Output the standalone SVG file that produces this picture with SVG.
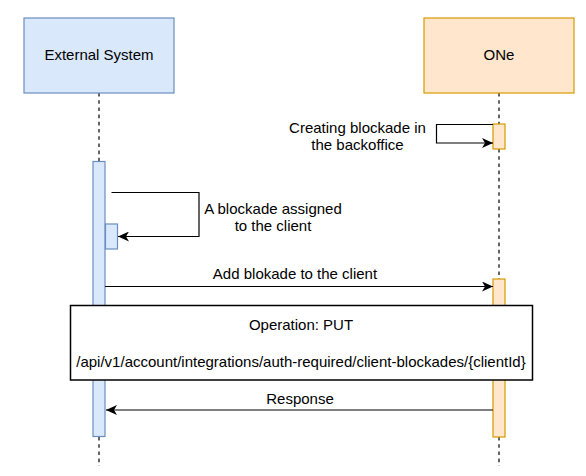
<svg xmlns="http://www.w3.org/2000/svg" width="586" height="476" viewBox="0 0 586 476">
<style>
text{font-family:"Liberation Sans",Arial,sans-serif;font-size:15px;fill:#000;text-anchor:middle}
.ext{fill:#dae8fc;stroke:#6c8ebf;stroke-width:1.2}
.one{fill:#ffe6cc;stroke:#d79b00;stroke-width:1.2}
.life{stroke:#000;stroke-width:1.2;stroke-dasharray:3.6 3.6;fill:none}
.msg{stroke:#000;stroke-width:1.2;fill:none}
</style>
<defs>
<marker id="arr" viewBox="0 0 11 10" refX="11" refY="5" markerWidth="11" markerHeight="10" markerUnits="userSpaceOnUse" orient="auto">
<path d="M0,0 L11,5 L0,10 L3,5 Z" fill="#000"/>
</marker>
</defs>
<g id="lifeline-external">
<line class="life" x1="99" y1="93" x2="99" y2="161"/>
<line class="life" x1="99" y1="437" x2="99" y2="466"/>
<rect class="ext" x="24" y="18" width="150" height="75"/>
<text x="99" y="59.5">External System</text>
<rect class="ext" x="93" y="161.5" width="12" height="275"/>
<rect class="ext" x="105.5" y="224" width="12" height="25"/>
</g>
<g id="lifeline-one">
<line class="life" x1="499" y1="93" x2="499" y2="124"/>
<line class="life" x1="499" y1="149" x2="499" y2="279"/>
<line class="life" x1="499" y1="437" x2="499" y2="466"/>
<rect class="one" x="424" y="18" width="150" height="75"/>
<text x="499" y="59.5">ONe</text>
<rect class="one" x="493" y="124" width="12" height="25"/>
<rect class="one" x="493" y="279" width="12" height="158"/>
</g>
<g id="connectors">
<path class="msg" d="M493,124.5 H436.5 V143 H493" marker-end="url(#arr)"/>
<path class="msg" d="M111.5,192.5 H199 V236.5 H118" marker-end="url(#arr)"/>
<path class="msg" d="M105,286.5 H493" marker-end="url(#arr)"/>
<path class="msg" d="M493,410 H106" marker-end="url(#arr)"/>
</g>
<g id="labels">
<text x="357.5" y="133">Creating blockade in</text>
<text x="357.5" y="150">the backoffice</text>
<text x="273" y="213.5">A blockade assigned</text>
<text x="273" y="231">to the client</text>
<text x="295" y="279">Add blokade to the client</text>
<text x="300" y="404">Response</text>
</g>
<g id="note-operation">
<rect x="70.5" y="305.5" width="462" height="74.5" fill="#fff" stroke="#000" stroke-width="1.5"/>
<text x="301" y="330">Operation: PUT</text>
<text x="301" y="367">/api/v1/account/integrations/auth-required/client-blockades/{clientId}</text>
</g>
</svg>
